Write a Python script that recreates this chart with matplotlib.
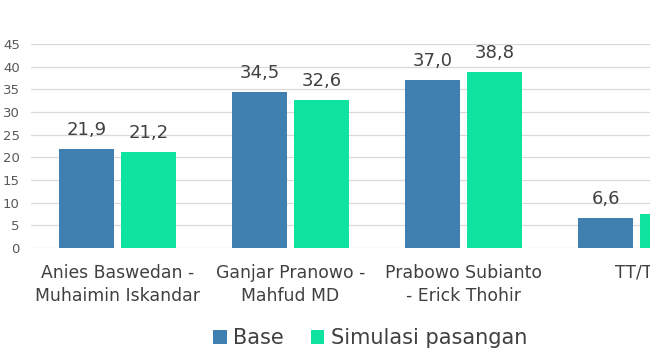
import matplotlib
matplotlib.use("Agg")
import matplotlib.pyplot as plt
import numpy as np

categories = ["Anies Baswedan -\nMuhaimin Iskandar", "Ganjar Pranowo -\nMahfud MD",
              "Prabowo Subianto\n- Erick Thohir", "TT/TJ"]
base = [21.9, 34.5, 37.0, 6.6]
simulasi = [21.2, 32.6, 38.8, 7.5]
series_names = ["Base", "Simulasi pasangan"]
yticks = [0, 5, 10, 15, 20, 25, 30, 35, 40, 45]

BLUE = "#3F80B0"
GREEN = "#0EE3A0"
TXT = "#404040"
FONT = ["DejaVu Sans"]
plt.rcParams['font.family'] = FONT

fig = plt.figure(figsize=(6.5, 3.62), dpi=100)
W, H = 650, 362
left, right = 31, 723
bottom, top = 248, 44
ax = fig.add_axes([left / W, (H - bottom) / H, (right - left) / W, (bottom - top) / H])

x = np.arange(len(categories))
w = 0.32
off = 0.178
b1 = ax.bar(x - off, base, width=w, color=BLUE, label=series_names[0], zorder=3)
b2 = ax.bar(x + off, simulasi, width=w, color=GREEN, label=series_names[1], zorder=3)

for bars, vals in ((b1, base), (b2, simulasi)):
    for r, v in zip(bars, vals):
        ax.annotate(f"{v:.1f}".replace(".", ","), (r.get_x() + r.get_width() / 2, v),
                    xytext=(0, 10), textcoords="offset points", ha="center", va="baseline",
                    fontsize=13, color=TXT, clip_on=False)

ax.set_xlim(-0.5, len(categories) - 0.5)
ax.set_ylim(0, 45)
ax.set_yticks(yticks)
ax.set_yticklabels([str(t) for t in yticks], fontsize=9.5, color="#595959")
ax.set_xticks(x)
ax.set_xticklabels(categories, fontsize=12.4, color=TXT, linespacing=1.38)
ax.tick_params(axis="both", length=0)
ax.tick_params(axis="x", pad=11.5)
ax.tick_params(axis="y", pad=8)
ax.yaxis.grid(True, color="#D9D9D9", linewidth=0.9, zorder=0)
ax.set_axisbelow(True)
for s in ax.spines.values():
    s.set_visible(False)

leg = fig.legend(handles=[b1, b2], labels=series_names, loc="center",
                 bbox_to_anchor=(370 / W, 1 - 338 / H), ncol=2, frameon=False,
                 fontsize=15, handlelength=0.65, handleheight=0.65,
                 handletextpad=0.3, columnspacing=1.3)
for t in leg.get_texts():
    t.set_color(TXT)

fig.savefig("out.png", dpi=100)
